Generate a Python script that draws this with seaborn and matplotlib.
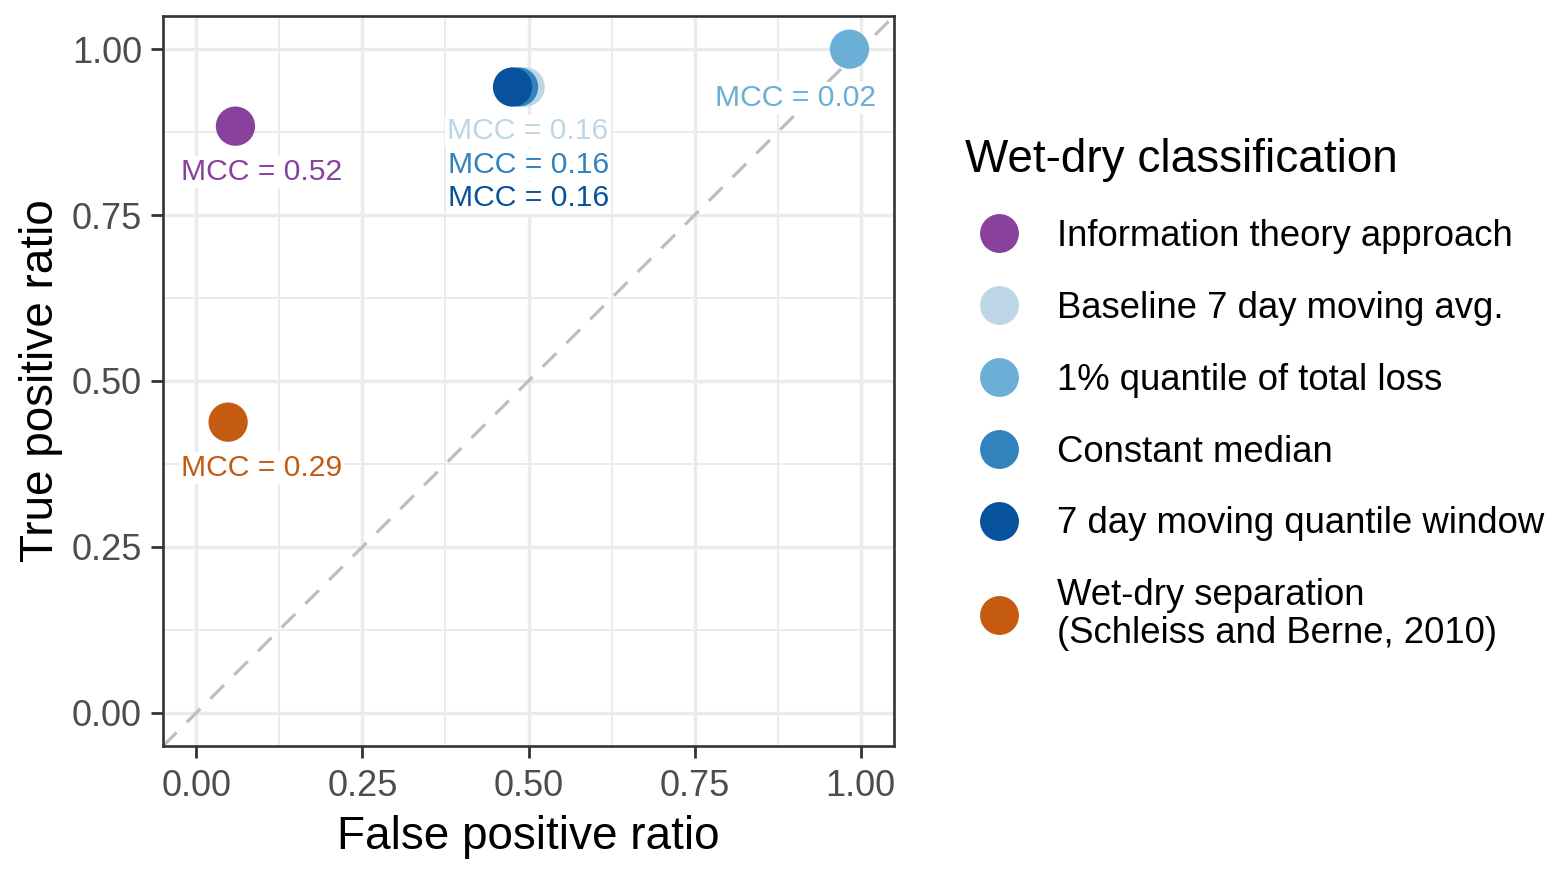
import matplotlib
matplotlib.use("Agg")
import matplotlib.pyplot as plt
from matplotlib.lines import Line2D
from matplotlib.ticker import MultipleLocator
import seaborn as sns
import pandas as pd

methods = ["Information theory approach", "Baseline 7 day moving avg.",
           "1% quantile of total loss", "Constant median",
           "7 day moving quantile window",
           "Wet-dry separation\n(Schleiss and Berne, 2010)"]
fpr = [0.059, 0.495, 0.983, 0.485, 0.476, 0.048]
tpr = [0.884, 0.943, 1.000, 0.943, 0.943, 0.438]
mcc = [0.52, 0.16, 0.02, 0.16, 0.16, 0.29]
colors = ["#88419D", "#BDD7E7", "#6BAED6", "#3182BD", "#08519C", "#C55A11"]
# label offsets in points relative to each point
label_dx = [19, 2, -39, 7, 11.5, 24]
label_dy = [-33, -32, -35, -56, -80, -33]

df = pd.DataFrame({"method": methods, "fpr": fpr, "tpr": tpr, "mcc": mcc})
palette = dict(zip(methods, colors))

sns.set_theme(style="white")
plt.rcParams["font.family"] = ["Liberation Sans", "DejaVu Sans"]
plt.rcParams["text.color"] = "black"
plt.rcParams["axes.labelcolor"] = "black"

fig = plt.figure(figsize=(15.61, 8.74), dpi=100)
ax = fig.add_axes([163 / 1561, 1 - 746 / 874, (894 - 163) / 1561, (746 - 16) / 874])

ax.set_xlim(-0.05, 1.05)
ax.set_ylim(-0.05, 1.05)
ax.xaxis.set_major_locator(MultipleLocator(0.25))
ax.yaxis.set_major_locator(MultipleLocator(0.25))
ax.xaxis.set_minor_locator(MultipleLocator(0.125))
ax.yaxis.set_minor_locator(MultipleLocator(0.125))
ax.grid(which="major", color="#EBEBEB", linewidth=2.5, zorder=0)
ax.grid(which="minor", color="#EBEBEB", linewidth=1.4, zorder=0)
ax.set_axisbelow(True)

ax.axline((0, 0), slope=1, color="#BEBEBE", linestyle=(0, (6, 4.5)),
          linewidth=2.3, zorder=1)

sns.scatterplot(data=df, x="fpr", y="tpr", hue="method", hue_order=methods,
                palette=palette, s=800, linewidth=0, alpha=1, ax=ax,
                legend=False, zorder=3)

for i in range(len(methods)):
    ax.annotate(f"MCC = {mcc[i]:.2f}", (fpr[i], tpr[i]),
                xytext=(label_dx[i], label_dy[i]), textcoords="offset points",
                ha="center", va="center", fontsize=21.7, color=colors[i],
                bbox=dict(facecolor="white", edgecolor="none", pad=1.5),
                zorder=4)

ax.set_xticks([0, 0.25, 0.5, 0.75, 1.0])
ax.set_yticks([0, 0.25, 0.5, 0.75, 1.0])
ax.set_xticklabels(["0.00", "0.25", "0.50", "0.75", "1.00"])
ax.set_yticklabels(["0.00", "0.25", "0.50", "0.75", "1.00"])
ax.tick_params(which="major", length=8.6, width=2.0, color="#333333",
               labelsize=26, labelcolor="#4D4D4D", bottom=True, left=True)
ax.tick_params(axis="x", which="major", pad=8)
ax.tick_params(axis="y", which="major", pad=6.5)
ax.tick_params(which="minor", length=0)
for sp in ax.spines.values():
    sp.set_color("#333333")
    sp.set_linewidth(1.9)

ax.set_xlabel("False positive ratio", fontsize=33, color="black", labelpad=8)
ax.set_ylabel("True positive ratio", fontsize=33, color="black", labelpad=6.5)

handles = [Line2D([0], [0], marker="o", linestyle="none", markersize=28,
                  markerfacecolor=c, markeredgewidth=0) for c in colors]
leg = fig.legend(handles, methods, loc="upper left",
                 bbox_to_anchor=(965 / 1561, 1 - 138 / 874), frameon=False,
                 title="Wet-dry classification", title_fontsize=33,
                 fontsize=26.3, labelspacing=1.01, handletextpad=0.66,
                 handlelength=1.86, borderpad=0, borderaxespad=0,
                 alignment="left")
leg.get_title().set_color("black")
for t in leg.get_texts():
    t.set_linespacing(1.08)
    t.set_color("black")

fig.savefig("out.png", dpi=100)
